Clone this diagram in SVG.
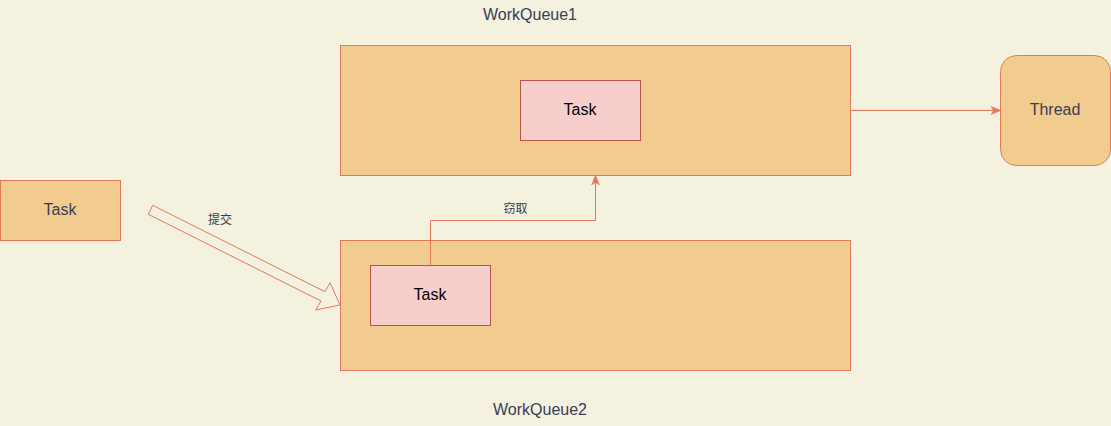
<svg xmlns="http://www.w3.org/2000/svg" width="1111" height="426" viewBox="0 0 1111 426">
<defs>
<style>
.box{fill:#F2CC8F;stroke:#E07A5F;stroke-width:1}
.task{fill:#F8CECC;stroke:#B85450;stroke-width:1}
.lbl{font-family:"Liberation Sans",Arial,Helvetica,sans-serif;font-size:16px;fill:#393C56;text-anchor:middle}
.tl{font-family:"Liberation Sans",Arial,Helvetica,sans-serif;font-size:16px;fill:#000000;text-anchor:middle}
.cn{font-family:"Liberation Sans","Noto Sans CJK SC",sans-serif;font-size:12px;fill:#393C56;text-anchor:middle}
.edge{fill:none;stroke:#E07A5F;stroke-width:1}
</style>
<marker id="arr" viewBox="0 0 10 10" refX="9" refY="5" markerWidth="10" markerHeight="10" markerUnits="userSpaceOnUse" orient="auto">
<path d="M0,1 L10,5 L0,9 L2.5,5 Z" fill="#E07A5F" stroke="#E07A5F" stroke-width="0.5"/>
</marker>
</defs>
<rect width="1111" height="426" fill="#F4F1DE"/>
<g id="workqueue1">
<rect class="box" x="340.5" y="45.5" width="510" height="130"/>
<text class="lbl" x="530" y="20">WorkQueue1</text>
</g>
<g id="workqueue2">
<rect class="box" x="340.5" y="240.5" width="510" height="130"/>
<text class="lbl" x="540" y="415">WorkQueue2</text>
</g>
<g id="task-left">
<rect class="box" x="0.5" y="180.5" width="120" height="60"/>
<text class="lbl" x="60" y="215">Task</text>
</g>
<g id="task-q1">
<rect class="task" x="520.5" y="80.5" width="120" height="60"/>
<text class="tl" x="580" y="115">Task</text>
</g>
<g id="task-q2">
<rect class="task" x="370.5" y="265.5" width="120" height="60"/>
<text class="tl" x="430" y="300">Task</text>
</g>
<g id="thread">
<rect class="box" x="1000.5" y="55.5" width="110" height="110" rx="16" ry="16"/>
<text class="lbl" x="1055" y="115">Thread</text>
</g>
<g id="connectors">
<polygon class="edge" points="152.7,205.3 325,291.7 330,282.7 340,305 315.7,310 321,301 148.3,214.3"/>
<text class="cn" x="220" y="223.5">提交</text>
<path class="edge" d="M430.5,265 L430.5,220.5 L595.5,220.5 L595.5,176" marker-end="url(#arr)"/>
<text class="cn" x="515.5" y="213">窃取</text>
<path class="edge" d="M851,110.5 L1000,110.5" marker-end="url(#arr)"/>
</g>
</svg>
